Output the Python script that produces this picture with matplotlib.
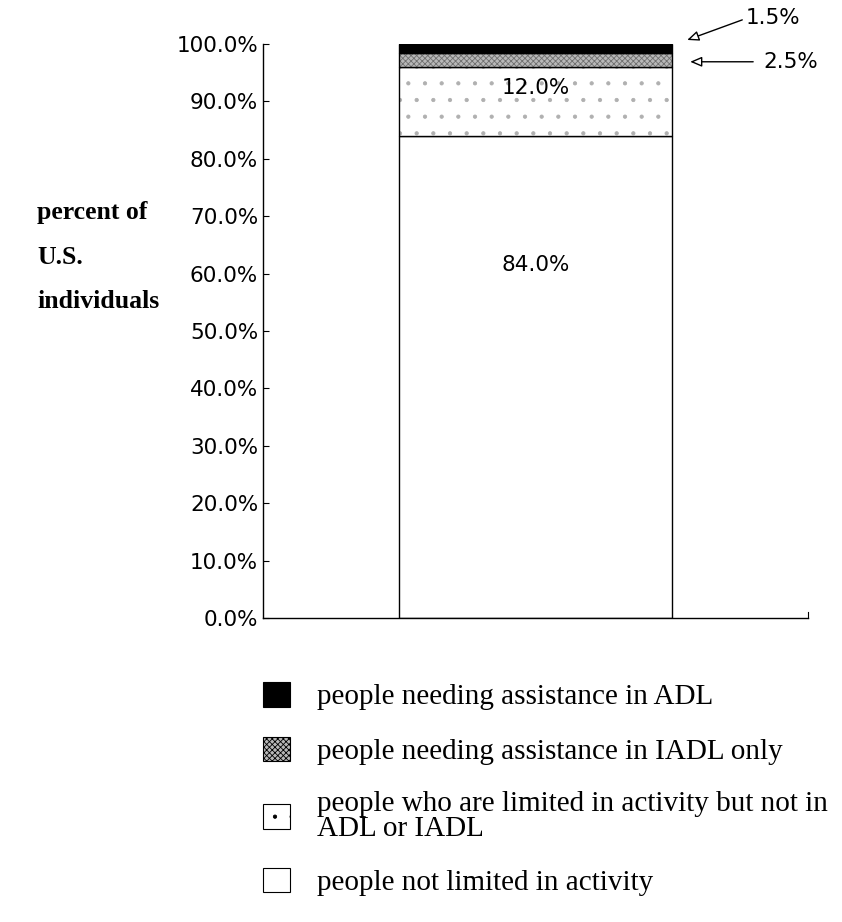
import matplotlib.pyplot as plt
from matplotlib.patches import Patch

# data
segments = ["people not limited in activity",
            "people who are limited in activity but not in\nADL or IADL",
            "people needing assistance in IADL only",
            "people needing assistance in ADL"]
values = [84.0, 12.0, 2.5, 1.5]
yticks = [0, 10, 20, 30, 40, 50, 60, 70, 80, 90, 100]

faces = ["white", "white", "#b8b8b8", "black"]
hatches = [None, ".", "xxxxxx", None]
hatch_cols = ["black", "#b0b0b0", "#707070", "black"]

sans = "DejaVu Sans"
serif = "Liberation Serif"
plt.rcParams["hatch.linewidth"] = 0.6

fig = plt.figure(figsize=(8.42, 9.22), dpi=100)
ax = fig.add_axes([0.3124, 0.3297, 0.6475, 0.6226])

bottom = 0
for val, fc, h, hc in zip(values, faces, hatches, hatch_cols):
    ax.bar(0, val, width=1.0, bottom=bottom, color=fc, hatch=h,
           edgecolor=hc, linewidth=0)
    ax.bar(0, val, width=1.0, bottom=bottom, fill=False,
           edgecolor="black", linewidth=1.0)
    bottom += val

ax.set_xlim(-1, 1)
ax.set_ylim(0, 100)
ax.set_xticks([])
ax.set_yticks(yticks)
ax.set_yticklabels([f"{t:.1f}%" for t in yticks], fontsize=15.5, family=sans)
ax.tick_params(axis="y", direction="in", length=4, width=0.8, pad=3.5)
ax.spines["top"].set_visible(False)
# tiny end mark on the right of the x axis
ax.spines["right"].set_bounds(0, 1.0)
ax.spines["left"].set_linewidth(1.0)
ax.spines["bottom"].set_linewidth(1.0)

# labels in the bar
ax.text(0, 61.5, f"{values[0]:.1f}%", ha="center", va="center",
        fontsize=15.5, family=sans)
ax.text(0, 92.3, f"{values[1]:.1f}%", ha="center", va="center",
        fontsize=15.5, family=sans)

# arrows for the thin segments
arrow = dict(arrowstyle="-|>,head_length=0.7,head_width=0.3",
             facecolor="white", edgecolor="black", lw=1.0, shrinkA=0, shrinkB=0)
ax.annotate("", xy=(0.556, 100.7), xytext=(0.758, 104.2),
            arrowprops=arrow, annotation_clip=False)
ax.text(0.769, 104.5, f"{values[3]:.1f}%", ha="left", va="center",
        fontsize=15.5, family=sans, clip_on=False)
ax.annotate("", xy=(0.567, 96.9), xytext=(0.798, 96.9),
            arrowprops=arrow, annotation_clip=False)
ax.text(0.835, 96.9, f"{values[2]:.1f}%", ha="left", va="center",
        fontsize=15.5, family=sans, clip_on=False)

fig.text(0.044, 1 - 257 / 922, "percent of\nU.S.\nindividuals", ha="left",
         va="center", fontsize=18.5, fontweight="bold", family=serif,
         linespacing=2.19)

handles = []
for i in [3, 2, 1, 0]:
    handles.append(Patch(facecolor=faces[i], edgecolor="black", hatch=hatches[i],
                         linewidth=0.8, label=segments[i]))
leg = fig.legend(handles=handles, loc="upper left",
                 bbox_to_anchor=(263 / 842, 1 - 682 / 922), frameon=False,
                 handlelength=0.92, handleheight=0.92, labelspacing=0.9,
                 handletextpad=0.92, borderpad=0, borderaxespad=0,
                 prop={"family": serif, "size": 21})
for t in leg.get_texts():
    t.set_linespacing(0.92)

fig.savefig("out.png", dpi=100)
